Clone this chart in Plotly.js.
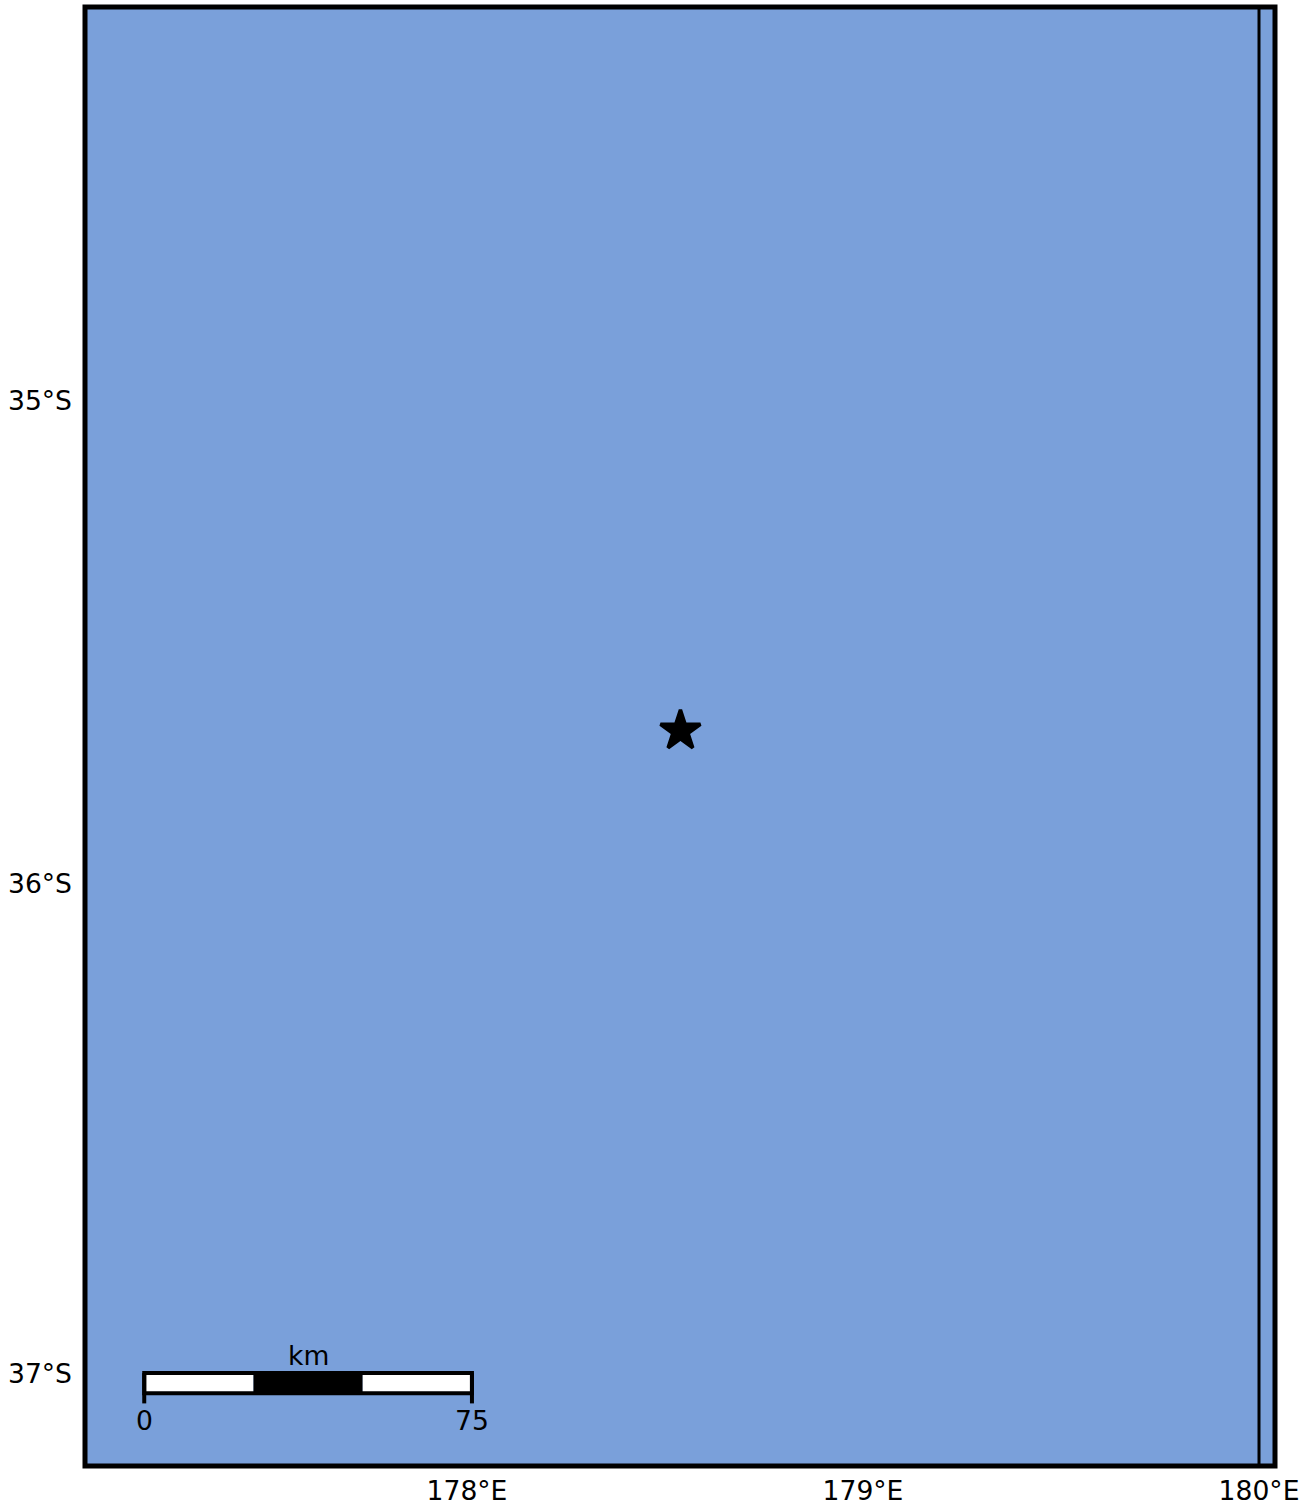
<!DOCTYPE html>
<html>
<head>
<meta charset="utf-8">
<script src="https://cdn.plot.ly/plotly-3.0.1.min.js"></script>
<style>html,body{margin:0;padding:0;background:#fff}</style>
</head>
<body>
<div id="chart" style="width:1315px;height:1505px"></div>
<script>
var lonTicks = [178, 179, 180];
var lonLabels = ['178°E', '179°E', '180°E'];
var latTicks = [35, 36, 37];
var latLabels = ['35°S', '36°S', '37°S'];
var starLon = [178.539];
var starLat = [35.685];
var meridianLon = [180, 180];
var scaleKm = [0, 25, 50, 75];
var scaleColors = ['#ffffff', '#000000', '#ffffff'];

var OCEAN = '#7aa0da';
var FONT = {family: 'DejaVu Sans', size: 26.6, color: '#000000'};

function merc(lat) {
  return 180 / Math.PI * Math.log(Math.tan(Math.PI / 4 + lat * Math.PI / 360));
}
var kmPerDeg = 90.63;
var scaleLon0 = 177.185;
function kmLon(km) { return scaleLon0 + km / kmPerDeg; }
var barTop = 39.876, barBot = 39.927, tickBot = 39.953;
var kmLabelY = 39.832, numLabelY = 39.997;

var shapes = [];
scaleColors.forEach(function (c, i) {
  shapes.push({type: 'rect', xref: 'x', yref: 'y', layer: 'above',
    x0: kmLon(scaleKm[i]), x1: kmLon(scaleKm[i + 1]), y0: barTop, y1: barBot,
    fillcolor: c, line: {width: 0}});
});
shapes.push({type: 'rect', xref: 'x', yref: 'y', layer: 'above',
  x0: kmLon(0), x1: kmLon(75), y0: barTop, y1: barBot,
  fillcolor: 'rgba(0,0,0,0)', line: {color: '#000', width: 4}});
[0, 75].forEach(function (km) {
  shapes.push({type: 'line', xref: 'x', yref: 'y', layer: 'above',
    x0: kmLon(km), x1: kmLon(km), y0: barTop, y1: tickBot,
    line: {color: '#000', width: 4}});
});
shapes.push({type: 'rect', xref: 'paper', yref: 'paper', layer: 'above',
  x0: 0, x1: 1, y0: 0, y1: 1, fillcolor: 'rgba(0,0,0,0)',
  line: {color: '#000', width: 5}});

var traces = [
  {type: 'scatter', mode: 'lines', x: meridianLon, y: [36.406, 40.110],
   line: {color: '#000', width: 3}, hoverinfo: 'skip', showlegend: false},
  {type: 'scatter', mode: 'markers', x: starLon, y: starLat.map(merc),
   marker: {symbol: 'star', size: 30, color: '#000', line: {color: '#000', width: 3.5}},
   hoverinfo: 'skip', showlegend: false}
];

var layout = {
  width: 1315, height: 1505,
  margin: {l: 85, r: 40, t: 6.5, b: 39, pad: 0},
  paper_bgcolor: '#ffffff', plot_bgcolor: OCEAN,
  showlegend: false,
  xaxis: {range: [177.0354, 180.0404], tickmode: 'array', tickvals: lonTicks, ticktext: lonLabels,
    showgrid: false, zeroline: false, showline: false, ticks: '', tickfont: FONT, ticklabelstandoff: 6},
  yaxis: {range: [40.112, 36.406], tickmode: 'array', tickvals: latTicks.map(merc), ticktext: latLabels,
    showgrid: false, zeroline: false, showline: false, ticks: '', tickfont: FONT, ticklabelstandoff: 12},
  shapes: shapes,
  annotations: [
    {x: kmLon(37.5), y: kmLabelY, text: 'km', showarrow: false, font: FONT, xref: 'x', yref: 'y'},
    {x: kmLon(0), y: numLabelY, text: '0', showarrow: false, font: FONT, xref: 'x', yref: 'y'},
    {x: kmLon(75), y: numLabelY, text: '75', showarrow: false, font: FONT, xref: 'x', yref: 'y'}
  ]
};
Plotly.newPlot('chart', traces, layout, {displayModeBar: false, responsive: false});
</script>
</body>
</html>
